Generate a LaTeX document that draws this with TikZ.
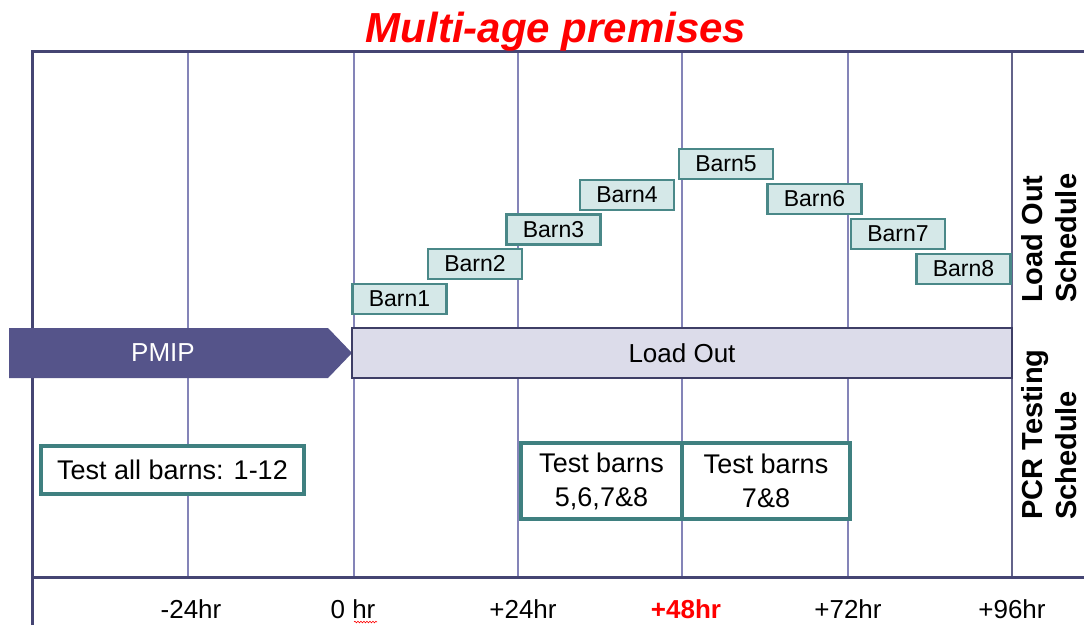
\documentclass[tikz,border=0pt]{standalone}
\usepackage{fontspec}
\setmainfont{Liberation Sans}
\usetikzlibrary{decorations.pathmorphing}

\definecolor{gridline}{RGB}{132,132,184}
\definecolor{frameline}{RGB}{69,69,115}
\definecolor{pmipfill}{RGB}{85,84,138}
\definecolor{loadfill}{RGB}{220,220,234}
\definecolor{loadedge}{RGB}{62,62,102}
\definecolor{barnfill}{RGB}{213,232,232}
\definecolor{barnedge}{RGB}{74,136,136}
\definecolor{testedge}{RGB}{63,128,128}

\begin{document}
\begin{tikzpicture}[x=1pt,y=-1pt]
        \useasboundingbox (0,0) rectangle (1084,625);

        % Grid
        \foreach \x in {188,354,518,682,848}
            \draw[gridline,line width=1.5pt] (\x,51) -- (\x,577);
        \draw[gridline!75!black,line width=2pt] (1012,51) -- (1012,577);
        \draw[frameline,line width=3pt] (32,625) -- (32,51) -- (1084,51)
              (32,577) -- (1084,577);

        % Title
        \node[anchor=base,text=red,font=\fontsize{42}{48}\selectfont\bfseries\itshape] (title) at (556,42) {Multi-age premises};

        % Timeline
        \fill[pmipfill] (9,328) -- (328,328) -- (352,353) -- (328,378) -- (9,378) -- cycle;
        \node[text=white,font=\fontsize{26}{30}\selectfont] (pmip) at (163,353) {PMIP};
        \node[draw=loadedge,fill=loadfill,line width=2.5pt,minimum width=660pt,minimum height=50pt,inner sep=0pt,
              font=\fontsize{26}{30}\selectfont] (load) at (682,353) {Load Out};

        \begin{scope}[every node/.style={draw=barnedge,fill=barnfill,line width=2.5pt,minimum width=94pt,
                      minimum height=30pt,inner sep=0pt,font=\fontsize{23}{27}\selectfont}]
        % Barns
        \node (barn1) at (399.5,299) {Barn1};
        \node (barn2) at (475,264) {Barn2};
        \node (barn3) at (553.5,229.5) {Barn3};
        \node (barn4) at (627,195) {Barn4};
        \node (barn5) at (726,164) {Barn5};
        \node (barn6) at (814.5,199) {Barn6};
        \node (barn7) at (898,234) {Barn7};
        \node (barn8) at (963.5,269) {Barn8};
        \end{scope}

        \begin{scope}[every node/.style={draw=testedge,fill=white,line width=3.5pt,inner sep=0pt,align=center,
                      font=\fontsize{27}{34}\selectfont}]
        % Tests
        \node[minimum width=263pt,minimum height=48pt] (testall) at (172.5,470) {Test all barns: 1-12};
        \node[minimum width=161pt,minimum height=76pt] (test5) at (601.5,481) {Test barns\\5,6,7\&8};
        \node[minimum width=168pt,minimum height=76pt] (test7) at (766,481) {Test barns\\7\&8};
        \end{scope}

        % Side labels
        \node[rotate=90,anchor=west,align=left,inner sep=0pt,font=\fontsize{29}{34}\selectfont\bfseries] (loadlbl) at (1049,303) {Load Out\\Schedule};
        \node[rotate=90,anchor=west,align=left,inner sep=0pt,font=\fontsize{29}{34}\selectfont\bfseries] (pcrlbl) at (1049,520) {PCR Testing\\Schedule};

        \begin{scope}[every node/.style={anchor=base,font=\fontsize{26}{30}\selectfont}]
        % Hours
        \node (m24) at (191,618) {-24hr};
        \node (h0) at (353,618) {0 hr};
        \node (p24) at (523,618) {+24hr};
        \node[text=red,font=\fontsize{26}{30}\selectfont\bfseries] (p48) at (686,618) {+48hr};
        \node (p72) at (848,618) {+72hr};
        \node (p96) at (1012,618) {+96hr};
        \end{scope}
        \draw[red,line width=0.6pt,decorate,decoration={snake,amplitude=0.8pt,segment length=3pt}] (354,622) -- (377,622);

\end{tikzpicture}
\end{document}
